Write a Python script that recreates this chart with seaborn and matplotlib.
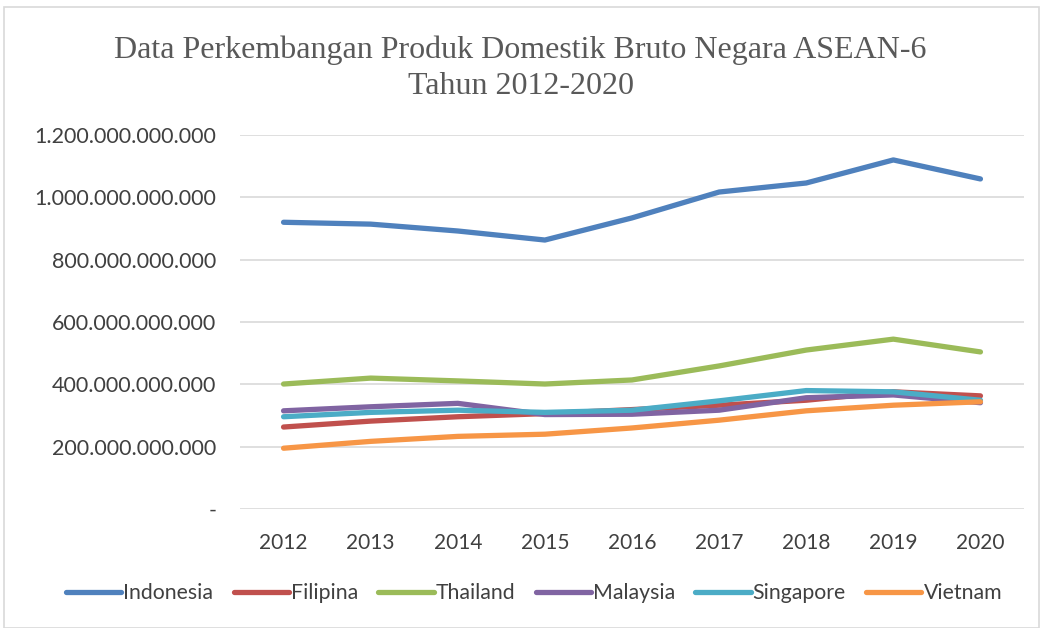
import matplotlib
matplotlib.use("Agg")
import matplotlib.pyplot as plt
import seaborn as sns
import pandas as pd
from matplotlib.ticker import FuncFormatter
from matplotlib.patches import Rectangle
from matplotlib.lines import Line2D

years = [2012, 2013, 2014, 2015, 2016, 2017, 2018, 2019, 2020]
countries = ["Indonesia", "Filipina", "Thailand", "Malaysia", "Singapore", "Vietnam"]
indonesia = [920, 914, 892, 863, 934, 1017, 1046, 1120, 1059]
filipina = [263, 282, 296, 306, 319, 333, 349, 376, 363]
thailand = [401, 420, 411, 401, 414, 459, 510, 545, 504]
malaysia = [315, 328, 339, 303, 304, 317, 357, 366, 341]
singapore = [296, 310, 317, 310, 317, 347, 380, 376, 349]
vietnam = [195, 217, 233, 240, 260, 285, 315, 333, 344]
colors = ["#4F81BD", "#C0504D", "#9BBB59", "#8064A2", "#4BACC6", "#F79646"]

series = [indonesia, filipina, thailand, malaysia, singapore, vietnam]
rows = []
for c, vals in zip(countries, series):
    for y, v in zip(years, vals):
        rows.append({"Tahun": y, "Negara": c, "PDB": v * 1e9})
df = pd.DataFrame(rows)

sns.set_style("white")
plt.rcParams["font.family"] = ["Lato", "DejaVu Sans"]

fig = plt.figure(figsize=(10.41, 6.28), dpi=100)
ax = fig.add_axes([240 / 1041, 1 - 509 / 628, (1024 - 240) / 1041, (509 - 135) / 628])

sns.lineplot(data=df, x="Tahun", y="PDB", hue="Negara", hue_order=countries,
             palette=colors, linewidth=3.8, ax=ax, legend=False)

ax.set_xlim(2011.5, 2020.5)
ax.set_ylim(0, 1.2e12)
ax.set_xticks(years)
ax.set_xticklabels([str(y) for y in years], fontsize=15, color="#404040")
ax.set_yticks([i * 2e11 for i in range(7)])


def fmt(v, pos):
    if v == 0:
        return "-"
    return f"{int(round(v)):,}".replace(",", ".")


ax.yaxis.set_major_formatter(FuncFormatter(fmt))
ax.tick_params(axis="y", labelsize=15.5, labelcolor="#404040", length=0, pad=17)
ax.tick_params(axis="x", length=0, pad=17)
ax.grid(axis="y", color="#D9D9D9", linewidth=1.2)
ax.grid(axis="x", visible=False)
for s in ax.spines.values():
    s.set_visible(False)
ax.set_xlabel("")
ax.set_ylabel("")

fig.text(0.5, 1 - 50 / 628, "Data Perkembangan Produk Domestik Bruto Negara ASEAN-6",
         ha="center", va="center", fontsize=23, family="Liberation Serif", color="#595959")
fig.text(0.5, 1 - 86 / 628, "Tahun 2012-2020",
         ha="center", va="center", fontsize=23, family="Liberation Serif", color="#595959")

handles = [Line2D([0], [0], color=c, linewidth=3.8, solid_capstyle="round") for c in colors]
fig.legend(handles, countries, loc="center", bbox_to_anchor=(0.513, 1 - 593 / 628), ncol=6,
           frameon=False, fontsize=15.3, handlelength=2.6, handletextpad=0.1,
           columnspacing=0.95, labelcolor="#404040")

fig.patches.append(Rectangle((4 / 1041, 0), 1 - 6 / 1041, 1 - 7 / 628, transform=fig.transFigure,
                             fill=False, edgecolor="#D9D9D9", linewidth=1.2))

fig.savefig("out.png", dpi=100)
